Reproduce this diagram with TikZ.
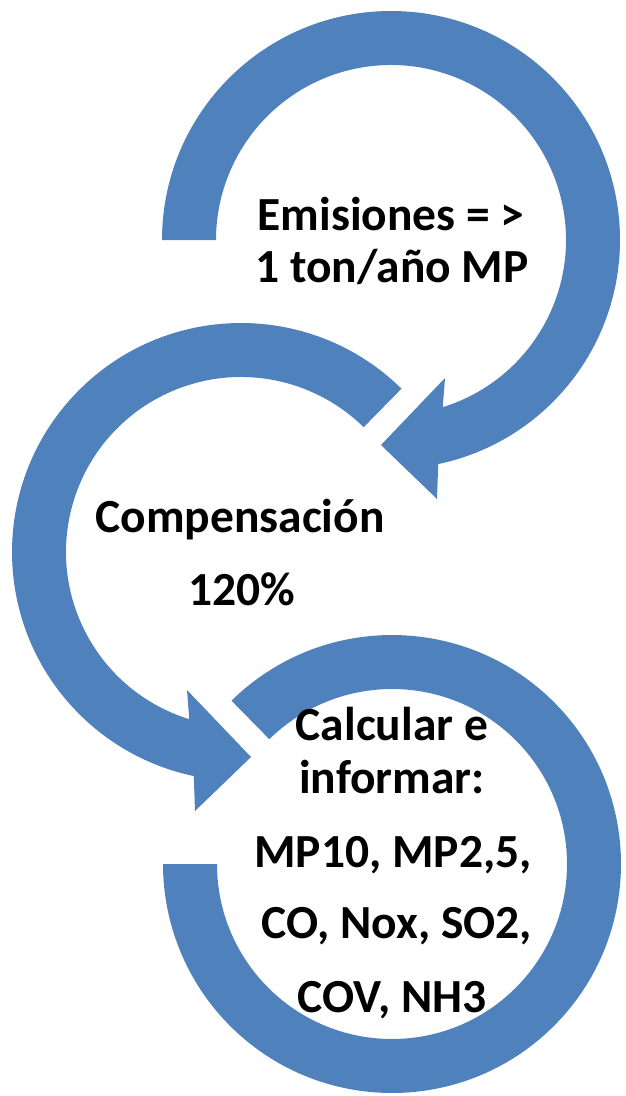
\documentclass[tikz,border=0pt]{standalone}
\usepackage{fontspec}
\setmainfont{Carlito}
\usetikzlibrary{calc}
\definecolor{arrowblue}{HTML}{4F81BD}
\begin{document}
\begin{tikzpicture}[x=1pt,y=1pt,
  ring/.style={fill=arrowblue},
  lbl/.style={anchor=base,inner sep=0pt,font=\fontsize{47.5}{56}\selectfont\bfseries}]
\useasboundingbox (0,0) rectangle (625,-1096);
\coordinate (c1) at (391,-240);
\coordinate (c2) at (241,-552);
\coordinate (c3) at (392,-864);
% arrow 1
\fill[ring] ($(c1)+(180:229pt)$) arc[start angle=180,end angle=-78.1,radius=229pt]
  -- (437,-499) -- (381,-445) -- (445,-378)
  -- ($(c1)+(-72.8:175pt)$) arc[start angle=-72.8,end angle=180,radius=175pt] -- cycle;
% arrow 2
\fill[ring] ($(c2)+(45.5:229pt)$) arc[start angle=45.5,end angle=258.1,radius=229pt]
  -- (195,-811) -- (251,-757) -- (187,-690)
  -- ($(c2)+(252.8:175pt)$) arc[start angle=252.8,end angle=45.5,radius=175pt] -- cycle;
% arrow 3
\fill[ring] ($(c3)+(134.5:229pt)$) arc[start angle=134.5,end angle=-180,radius=229pt]
  -- ($(c3)+(180:175pt)$) arc[start angle=-180,end angle=134.5,radius=175pt] -- cycle;
% texts
\node[lbl] (t1a) at (391,-230) {Emisiones = >};
\node[lbl] (t1b) at (392,-282) {1 ton/año MP};
\node[lbl] (t2a) at (240,-532) {Compensación};
\node[lbl] (t2b) at (242,-605) {120\%};
\node[lbl] (t3a) at (392,-740) {Calcular e};
\node[lbl] (t3b) at (392,-793) {informar:};
\node[lbl] (t3c) at (393,-867) {MP10, MP2,5,};
\node[lbl] (t3d) at (397,-938) {CO, Nox, SO2,};
\node[lbl] (t3e) at (392,-1012) {COV, NH3};
\end{tikzpicture}
\end{document}
